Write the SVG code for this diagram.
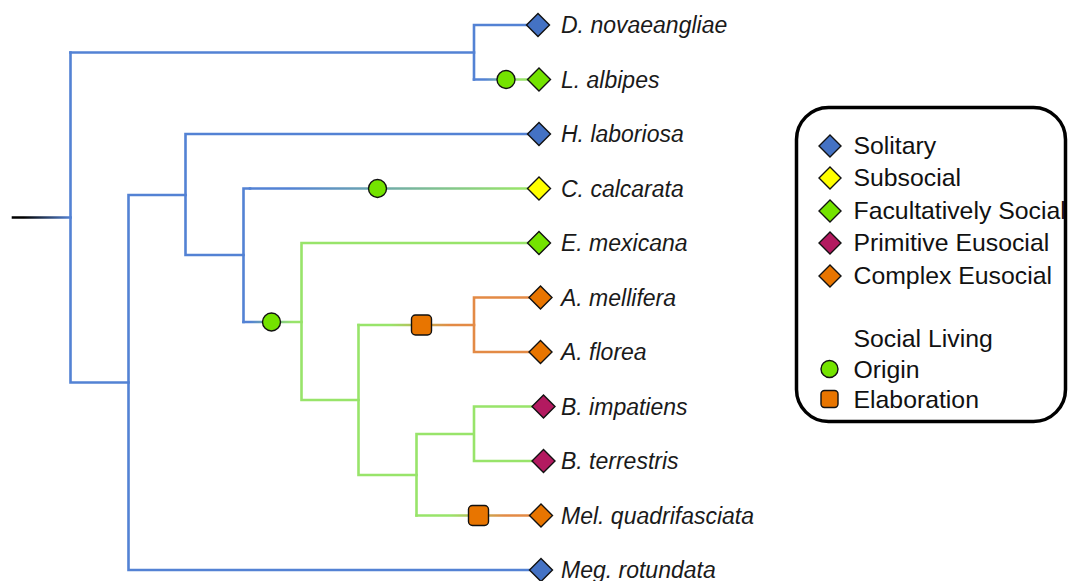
<svg xmlns="http://www.w3.org/2000/svg" width="1068" height="581" viewBox="0 0 1068 581">
  <style>
    .br { fill: none; stroke-width: 2.6; stroke-linecap: square; }
    .sol { stroke: #5382d4; }
    .fac { stroke: #98e46a; }
    .cpx { stroke: #e38a45; }
    .tip { font-family: "Liberation Sans", Arial, sans-serif; font-style: italic; font-size: 23px; fill: #1a1a1a; }
    .leg { font-family: "Liberation Sans", Arial, sans-serif; font-size: 24.8px; fill: #111; }
    .mk { stroke: #111; stroke-width: 1.4; }
  </style>
  <defs>
    <path id="dia" d="M0,-11.5 L11.5,0 L0,11.5 L-11.5,0 Z"/>
    <path id="dia-s" d="M0,-11 L11,0 L0,11 L-11,0 Z"/>
    <linearGradient id="gStub" gradientUnits="userSpaceOnUse" x1="12" y1="0" x2="70" y2="0">
      <stop offset="0.2" stop-color="#000"/>
      <stop offset="1" stop-color="#5382d4"/>
    </linearGradient>
    <linearGradient id="gCal" gradientUnits="userSpaceOnUse" x1="290" y1="0" x2="520" y2="0">
      <stop offset="0" stop-color="#5382d4"/>
      <stop offset="1" stop-color="#98e46a"/>
    </linearGradient>
    <linearGradient id="gAlb" gradientUnits="userSpaceOnUse" x1="485" y1="0" x2="520" y2="0">
      <stop offset="0" stop-color="#5382d4"/>
      <stop offset="1" stop-color="#98e46a"/>
    </linearGradient>
    <linearGradient id="gOri" gradientUnits="userSpaceOnUse" x1="250" y1="0" x2="292" y2="0">
      <stop offset="0" stop-color="#5382d4"/>
      <stop offset="1" stop-color="#98e46a"/>
    </linearGradient>
    <linearGradient id="gApis" gradientUnits="userSpaceOnUse" x1="390" y1="0" x2="450" y2="0">
      <stop offset="0" stop-color="#98e46a"/>
      <stop offset="1" stop-color="#e38a45"/>
    </linearGradient>
    <linearGradient id="gMel" gradientUnits="userSpaceOnUse" x1="450" y1="0" x2="505" y2="0">
      <stop offset="0" stop-color="#98e46a"/>
      <stop offset="1" stop-color="#e38a45"/>
    </linearGradient>
  </defs>

  <!-- branches -->
  <g id="connectors">
    <line class="br" x1="13" y1="217.5" x2="70.5" y2="217.5" stroke="url(#gStub)"/>
    <path class="br sol" d="M70.5,52.5 V382.5 H128.5"/>
    <path class="br sol" d="M70.5,52.5 H474"/>
    <path class="br sol" d="M474,25 V79.5 M474,25 H530"/>
    <line class="br" x1="474" y1="79.5" x2="530" y2="79.5" stroke="url(#gAlb)"/>
    <path class="br sol" d="M128.5,195 V570 H530 M128.5,195 H185.5"/>
    <path class="br sol" d="M185.5,134 V255 H243.5 M185.5,134 H530"/>
    <path class="br sol" d="M243.5,188.5 V322 M243.5,188.5 H250"/>
    <line class="br" x1="250" y1="188.5" x2="530" y2="188.5" stroke="url(#gCal)"/>
    <line class="br" x1="243.5" y1="322" x2="301.5" y2="322" stroke="url(#gOri)"/>
    <path class="br fac" d="M301.5,243 V400 H358.5 M301.5,243 H530"/>
    <path class="br fac" d="M358.5,325 V475 H416.5"/>
    <line class="br" x1="358.5" y1="325" x2="474" y2="325" stroke="url(#gApis)"/>
    <path class="br cpx" d="M474,297.5 V352 H530 M474,297.5 H530"/>
    <path class="br fac" d="M416.5,434 V515.5 M416.5,434 H474 M474,406.5 V461 H534 M474,406.5 H534"/>
    <line class="br" x1="416.5" y1="515.5" x2="530" y2="515.5" stroke="url(#gMel)"/>
  </g>

  <!-- transition markers on branches -->
  <g id="origin-albipes"><circle class="mk" cx="506" cy="79.5" r="9" fill="#74e300"/></g>
  <g id="origin-calcarata"><circle class="mk" cx="377.5" cy="188.5" r="9" fill="#74e300"/></g>
  <g id="origin-corbiculate"><circle class="mk" cx="271.5" cy="322" r="9" fill="#74e300"/></g>
  <g id="elab-apis"><rect class="mk" x="411.5" y="315" width="20" height="20" rx="4" fill="#e87500"/></g>
  <g id="elab-melipona"><rect class="mk" x="468.5" y="505.5" width="20" height="20" rx="4" fill="#e87500"/></g>

  <!-- tips -->
  <g id="tip-dnov"><use href="#dia" class="mk" x="538" y="25" fill="#4472c4"/><text class="tip" x="561" y="33">D. novaeangliae</text></g>
  <g id="tip-lalb"><use href="#dia" class="mk" x="539" y="79.5" fill="#74e300"/><text class="tip" x="561" y="87.5">L. albipes</text></g>
  <g id="tip-hlab"><use href="#dia" class="mk" x="539" y="134" fill="#4472c4"/><text class="tip" x="561" y="142">H. laboriosa</text></g>
  <g id="tip-ccal"><use href="#dia" class="mk" x="539" y="188.5" fill="#ffff00"/><text class="tip" x="561" y="196.5">C. calcarata</text></g>
  <g id="tip-emex"><use href="#dia" class="mk" x="539" y="243" fill="#74e300"/><text class="tip" x="561" y="251">E. mexicana</text></g>
  <g id="tip-amel"><use href="#dia" class="mk" x="540.5" y="297.5" fill="#e87500"/><text class="tip" x="561" y="305.5">A. mellifera</text></g>
  <g id="tip-aflo"><use href="#dia" class="mk" x="540.5" y="352" fill="#e87500"/><text class="tip" x="561" y="360">A. florea</text></g>
  <g id="tip-bimp"><use href="#dia" class="mk" x="543.5" y="406.5" fill="#b31a60"/><text class="tip" x="561" y="414.5">B. impatiens</text></g>
  <g id="tip-bter"><use href="#dia" class="mk" x="543.5" y="461" fill="#b31a60"/><text class="tip" x="561" y="469">B. terrestris</text></g>
  <g id="tip-mqua"><use href="#dia" class="mk" x="541" y="515.5" fill="#e87500"/><text class="tip" x="561" y="523.5">Mel. quadrifasciata</text></g>
  <g id="tip-mrot"><use href="#dia" class="mk" x="541" y="570" fill="#4472c4"/><text class="tip" x="561" y="578">Meg. rotundata</text></g>

  <!-- key -->
  <g id="legend">
    <rect x="796.5" y="107.5" width="269" height="314" rx="32" fill="#fff" stroke="#000" stroke-width="3.5"/>
    <use href="#dia-s" class="mk" x="830" y="146" fill="#4472c4"/>
    <use href="#dia-s" class="mk" x="830" y="178" fill="#ffff00"/>
    <use href="#dia-s" class="mk" x="830" y="211" fill="#74e300"/>
    <use href="#dia-s" class="mk" x="830" y="243" fill="#b31a60"/>
    <use href="#dia-s" class="mk" x="830" y="276" fill="#e87500"/>
    <text class="leg" x="853.5" y="153.5">Solitary</text>
    <text class="leg" x="853.5" y="185.5">Subsocial</text>
    <text class="leg" x="853.5" y="218.5">Facultatively Social</text>
    <text class="leg" x="853.5" y="250.5">Primitive Eusocial</text>
    <text class="leg" x="853.5" y="283.5">Complex Eusocial</text>
    <text class="leg" x="853.5" y="347">Social Living</text>
    <circle class="mk" cx="829.5" cy="369" r="8.5" fill="#74e300"/>
    <text class="leg" x="853.5" y="378">Origin</text>
    <rect class="mk" x="821" y="390.5" width="17" height="17" rx="3.5" fill="#e87500"/>
    <text class="leg" x="853.5" y="408">Elaboration</text>
  </g>
</svg>
